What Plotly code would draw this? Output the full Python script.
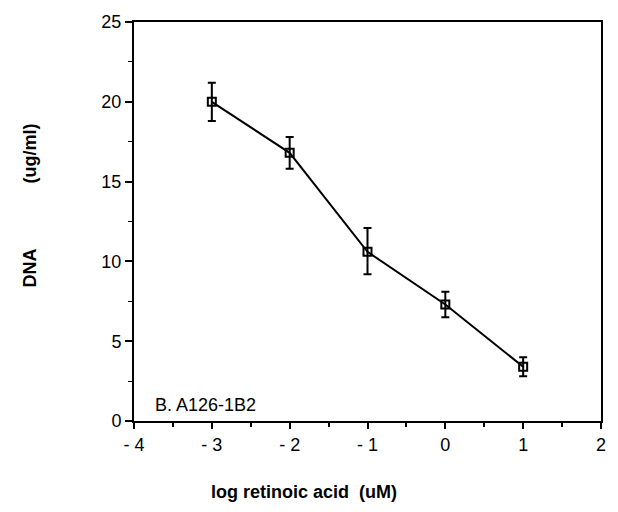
import plotly.graph_objects as go

log_ra = [-3, -2, -1, 0, 1]
dna = [20.0, 16.8, 10.6, 7.3, 3.4]
err_plus = [1.2, 1.0, 1.5, 0.8, 0.6]
err_minus = [1.2, 1.0, 1.4, 0.8, 0.6]

x_ticks = [-4, -3, -2, -1, 0, 1, 2]
x_tick_labels = ["- 4", "- 3", "- 2", "- 1", "0", "1", "2"]
y_ticks = [0, 5, 10, 15, 20, 25]

fig = go.Figure()
fig.add_trace(go.Scatter(
    x=log_ra, y=dna, mode="lines+markers",
    line=dict(color="black", width=2),
    marker=dict(symbol="square-open", size=8, color="black", line=dict(width=2)),
    error_y=dict(type="data", symmetric=False, array=err_plus, arrayminus=err_minus,
                 color="black", thickness=2, width=4),
    showlegend=False,
))

font = "Liberation Sans, Arial, Helvetica, sans-serif"
fig.update_layout(
    width=618, height=512,
    margin=dict(l=134, r=16, t=14, b=91),
    paper_bgcolor="white", plot_bgcolor="white",
    font=dict(family=font, color="black", size=18),
    xaxis=dict(range=[-4, 2], tickvals=x_ticks, ticktext=x_tick_labels,
               showgrid=False, zeroline=False, showline=True, linecolor="black",
               linewidth=2, mirror=True, ticks="outside", ticklen=6, tickwidth=2,
               tickcolor="black", tickfont=dict(size=18),
               minor=dict(dtick=0.5, ticks="outside", ticklen=4, tickwidth=2, tickcolor="black")),
    yaxis=dict(range=[0, 25], tickvals=y_ticks,
               showgrid=False, zeroline=False, showline=True, linecolor="black",
               linewidth=2, mirror=True, ticks="outside", ticklen=7, tickwidth=2,
               tickcolor="black", tickfont=dict(size=18),
               minor=dict(dtick=2.5, ticks="outside", ticklen=4, tickwidth=1, tickcolor="black")),
)

fig.add_annotation(text="<b>log retinoic acid  (uM)</b>", xref="paper", yref="paper",
                   x=0.365, y=-0.177, showarrow=False, font=dict(size=18),
                   xanchor="center", yanchor="middle")
fig.add_annotation(text="<b>DNA</b>", xref="paper", yref="paper",
                   x=-0.222, y=0.383, textangle=-90, showarrow=False, font=dict(size=18),
                   xanchor="center", yanchor="middle")
fig.add_annotation(text="<b>(ug/ml)</b>", xref="paper", yref="paper",
                   x=-0.222, y=0.671, textangle=-90, showarrow=False, font=dict(size=18),
                   xanchor="center", yanchor="middle")
fig.add_annotation(text="B. A126-1B2", xref="x", yref="y",
                   x=-3.76, y=1.0, showarrow=False, font=dict(size=18),
                   xanchor="left", yanchor="middle")

fig.write_html("out.html", config={"displayModeBar": False},
               post_script="document.body.style.margin='0';")
